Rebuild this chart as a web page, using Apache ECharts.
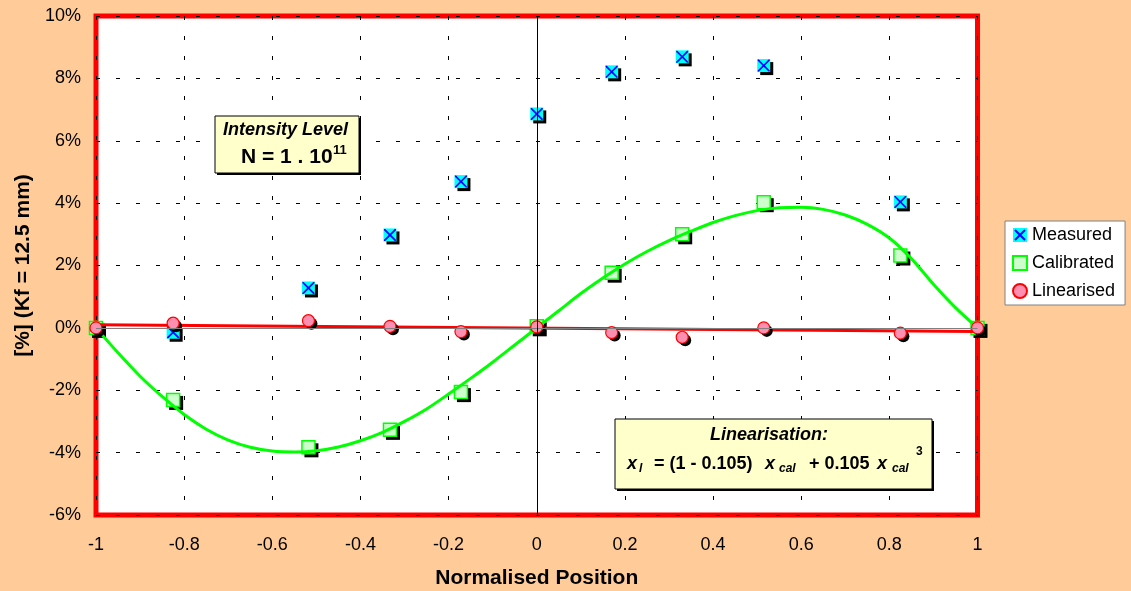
<!DOCTYPE html>
<html><head><meta charset="utf-8">
<script src="https://cdn.jsdelivr.net/npm/echarts@6/dist/echarts.min.js"></script>
<style>html,body{margin:0;padding:0;background:#FFCC99;}#c{width:1131px;height:591px;}</style>
</head><body><div id="c"></div>
<script>
// ---- data ----
const positions  = [-1, -0.825, -0.518, -0.333, -0.172, 0, 0.17, 0.33, 0.515, 0.825, 1];
const measured   = [0, -0.14, 1.28, 2.98, 4.69, 6.86, 8.21, 8.69, 8.41, 4.04, 0];
const calibrated = [0, -2.31, -3.83, -3.27, -2.06, 0.05, 1.77, 3.0, 4.03, 2.32, 0];
const linearised = [0, 0.15, 0.23, 0.05, -0.12, 0.03, -0.15, -0.3, 0.0, -0.17, 0];
// calibrated trend curve
const fitX = [-1,-0.95,-0.9,-0.85,-0.8,-0.75,-0.7,-0.65,-0.6,-0.55,-0.5,-0.45,-0.4,-0.35,-0.3,-0.25,-0.2,-0.15,-0.1,-0.05,
              0,0.05,0.1,0.15,0.2,0.25,0.3,0.35,0.4,0.45,0.5,0.55,0.6,0.65,0.7,0.75,0.8,0.85,0.9,0.95,1];
const fitY = [0,-0.8,-1.55,-2.2,-2.78,-3.25,-3.6,-3.83,-3.95,-3.98,-3.94,-3.82,-3.62,-3.35,-3.0,-2.6,-2.12,-1.62,-1.1,-0.55,
              0,0.55,1.1,1.6,2.05,2.45,2.8,3.1,3.38,3.6,3.76,3.85,3.87,3.8,3.62,3.32,2.88,2.22,1.4,0.65,0];
// linearised trend line
const trendX = [-1, 1];
const trendY = [0.1, -0.12];
// axes
const xRange = [-1, 1, 0.2];
const yRange = [-6, 10, 2];
const seriesNames = ['Measured', 'Calibrated', 'Linearised'];

const FONT = '"Liberation Sans", Arial, sans-serif';
const zip = (xs, ys) => xs.map((x, i) => [x, ys[i]]);
const xPath = 'path://M0,0 L2,0 L10,8 L18,0 L20,0 L20,2 L12,10 L20,18 L20,20 L18,20 L10,12 L2,20 L0,20 L0,18 L8,10 L0,2 Z';
const measuredIcon = 'image://data:image/svg+xml;charset=utf-8,' + encodeURIComponent(
  '<svg xmlns="http://www.w3.org/2000/svg" width="14" height="14"><rect x="0" y="0" width="14" height="14" fill="#00FFFF"/><path d="M2,2L12,12M12,2L2,12" stroke="#0000FF" stroke-width="2"/></svg>');

function shadowSeries(vals, symbol, size, z) {
  return {name: '_shadow', type: 'scatter', data: zip(positions, vals), symbol: symbol, symbolSize: size,
    symbolOffset: [3, 3], itemStyle: {color: '#000', opacity: 1}, silent: true, z: z};
}
function t(str, x, y, size, bold, italic) {
  return {type: 'text', x: x, y: y, z: 12, style: {text: str, fill: '#000', fontFamily: FONT, fontSize: size,
    fontWeight: bold ? 'bold' : 'normal', fontStyle: italic ? 'italic' : 'normal', align: 'left', verticalAlign: 'middle'}};
}

const chart = echarts.init(document.getElementById('c'), null, {renderer: 'canvas'});
chart.setOption({
  backgroundColor: '#FFCC99',
  animation: false,
  textStyle: {fontFamily: FONT},
  grid: {left: 96, right: 153.5, top: 16, bottom: 76, containLabel: false, outerBoundsMode: 'none',
         show: true, backgroundColor: '#FFFFFF', borderColor: '#FF0000', borderWidth: 5},
  xAxis: {
    type: 'value', min: xRange[0], max: xRange[1], interval: xRange[2],
    name: 'Normalised Position', nameLocation: 'middle', nameGap: 53,
    nameTextStyle: {fontSize: 21, fontWeight: 'bold', color: '#000', fontFamily: FONT},
    axisLine: {show: false}, axisTick: {show: false},
    axisLabel: {color: '#000', fontSize: 18, margin: 21, fontFamily: FONT},
    splitLine: {show: true, lineStyle: {color: '#000', width: 1, type: [4, 16]}}
  },
  yAxis: {
    type: 'value', min: yRange[0], max: yRange[1], interval: yRange[2],
    name: '[%] (Kf = 12.5 mm)', nameLocation: 'middle', nameGap: 62,
    nameTextStyle: {fontSize: 21, fontWeight: 'bold', color: '#000', fontFamily: FONT},
    axisLine: {show: false}, axisTick: {show: false},
    axisLabel: {color: '#000', fontSize: 18, margin: 15, formatter: '{value}%', fontFamily: FONT},
    splitLine: {show: true, lineStyle: {color: '#000', width: 1, type: [4, 16]}}
  },
  legend: {
    orient: 'vertical', left: 1005, top: 221, itemWidth: 14, itemHeight: 14, itemGap: 10,
    padding: [5, 10, 5, 7], backgroundColor: '#FFFFFF', borderColor: '#808080', borderWidth: 1, borderRadius: 0,
    textStyle: {fontSize: 18, color: '#000', fontFamily: FONT},
    data: [{name: seriesNames[0], icon: measuredIcon}, {name: seriesNames[1], icon: 'rect'}, {name: seriesNames[2], icon: 'circle'}]
  },
  series: [
    {type: 'line', data: [], silent: true, z: 1,
     markLine: {silent: true, symbol: ['none', 'none'], label: {show: false}, animation: false,
       data: [{yAxis: 0, lineStyle: {color: '#808080', width: 1, type: 'solid'}},
              {xAxis: 0, lineStyle: {color: '#000000', width: 1, type: 'solid'}}]}},
    shadowSeries(measured, 'rect', 13, 2),
    {name: seriesNames[0], type: 'scatter', data: zip(positions, measured), symbol: 'rect', symbolSize: 13,
     itemStyle: {color: '#00FFFF', opacity: 1}, z: 2},
    {name: 'MeasuredX', type: 'scatter', data: zip(positions, measured), symbol: xPath, symbolSize: 12,
     itemStyle: {color: '#0000FF', opacity: 1}, z: 2},
    shadowSeries(calibrated, 'rect', 14, 2),
    {name: seriesNames[1], type: 'scatter', data: zip(positions, calibrated), symbol: 'rect', symbolSize: 13,
     itemStyle: {color: '#CCFFCC', borderColor: '#00FF00', borderWidth: 1.5, opacity: 1}, z: 2},
    {name: 'CalibratedFit', type: 'line', data: zip(fitX, fitY), smooth: 0.3, showSymbol: false, symbol: 'none',
     lineStyle: {color: '#00FF00', width: 3}, z: 3},
    {name: 'LinearisedFit', type: 'line', data: zip(trendX, trendY), showSymbol: false, symbol: 'none',
     lineStyle: {color: '#FF0000', width: 3}, z: 3},
    shadowSeries(linearised, 'circle', 12, 4),
    {name: seriesNames[2], type: 'scatter', data: zip(positions, linearised), symbol: 'circle', symbolSize: 12,
     itemStyle: {color: '#FF8FB0', borderColor: '#FF0000', borderWidth: 1.2, opacity: 1}, z: 4}
  ],
  graphic: [
    {type: 'rect', shape: {x: 217, y: 118, width: 144, height: 57}, style: {fill: '#000'}, z: 10},
    {type: 'rect', shape: {x: 215, y: 116, width: 144, height: 57}, style: {fill: '#FFFFCC', stroke: '#000', lineWidth: 1}, z: 11},
    t('Intensity Level', 223, 130, 18, true, true),
    t('N = 1 . 10', 241, 157, 21, true, false),
    t('11', 333, 150, 13, true, false),
    {type: 'rect', shape: {x: 617, y: 421, width: 317, height: 70}, style: {fill: '#000'}, z: 10},
    {type: 'rect', shape: {x: 615, y: 419, width: 317, height: 70}, style: {fill: '#FFFFCC', stroke: '#000', lineWidth: 1}, z: 11},
    t('Linearisation:', 710, 435, 18, true, true),
    t('x', 627, 464, 18, true, true),
    t('l', 639, 469, 12, true, true),
    t('= (1 - 0.105)', 654, 464, 18, true, false),
    t('x', 765, 464, 18, true, true),
    t('cal', 779, 469, 12, true, true),
    t('+ 0.105', 809, 464, 18, true, false),
    t('x', 877, 464, 18, true, true),
    t('cal', 892, 469, 12, true, true),
    t('3', 916, 452, 12, true, false)
  ]
});
</script></body></html>
